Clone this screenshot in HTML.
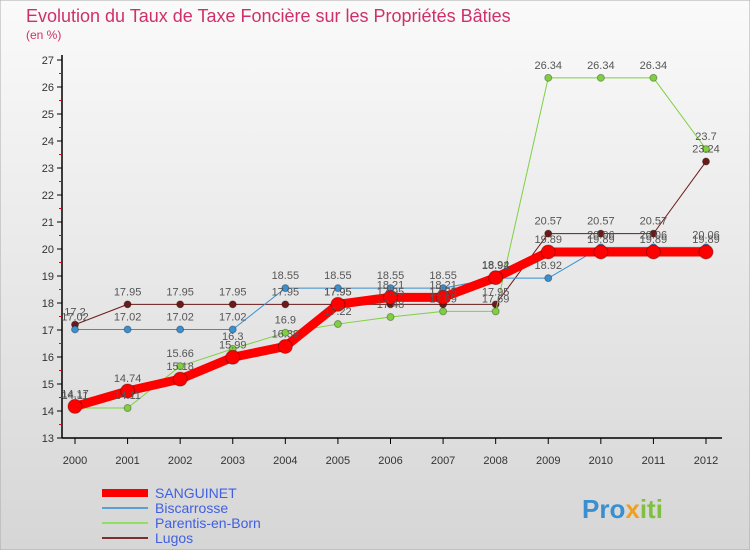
<!DOCTYPE html>
<html><head><meta charset="utf-8"><style>
body{margin:0;width:750px;height:550px;overflow:hidden;font-family:"Liberation Sans",sans-serif}
svg text{font-family:"Liberation Sans",sans-serif}
</style></head><body>
<svg id="c" width="750" height="550">
<defs><linearGradient id="bg" x1="0" y1="0" x2="0" y2="1"><stop offset="0" stop-color="#fafafa"/><stop offset="1" stop-color="#d6d6d6"/></linearGradient></defs>
<rect width="750" height="550" fill="url(#bg)" stroke="#aaa"/>
<text x="26" y="22" font-size="18" fill="#d0306a">Evolution du Taux de Taxe Foncière sur les Propriétés Bâties</text>
<text x="26" y="39" font-size="12" fill="#d0306a">(en %)</text>
<g id="axes"></g><g id="series"></g><g id="labels"></g>
<g>
<line x1="102" y1="493" x2="148" y2="493" stroke="#f00" stroke-width="8"/>
<text x="155" y="498" font-size="14" fill="#4060e0">SANGUINET</text>
<line x1="102" y1="508" x2="148" y2="508" stroke="#5a9fd6" stroke-width="2"/>
<text x="155" y="513" font-size="14" fill="#4060e0">Biscarrosse</text>
<line x1="102" y1="523" x2="148" y2="523" stroke="#8fe060" stroke-width="2"/>
<text x="155" y="528" font-size="14" fill="#4060e0">Parentis-en-Born</text>
<line x1="102" y1="538" x2="148" y2="538" stroke="#7a3030" stroke-width="2"/>
<text x="155" y="543" font-size="14" fill="#4060e0">Lugos</text>
</g>
<text x="582" y="518" font-size="26" font-weight="bold" fill="#3a8fd0">Pro<tspan fill="#f0a020">x</tspan><tspan fill="#80c040">iti</tspan></text>
</svg>
<script>
const years=[2000,2001,2002,2003,2004,2005,2006,2007,2008,2009,2010,2011,2012];
const yTicks=[13,14,15,16,17,18,19,20,21,22,23,24,25,26,27];
const sanguinet=[14.17,14.74,15.18,15.99,16.39,17.95,18.21,18.21,18.94,19.89,19.89,19.89,19.89];
const biscarrosse=[17.02,17.02,17.02,17.02,18.55,18.55,18.55,18.55,18.92,18.92,20.06,20.06,20.06];
const parentis=[14.11,14.11,15.66,16.3,16.9,17.22,17.48,17.69,17.69,26.34,26.34,26.34,23.7];
const lugos=[17.2,17.95,17.95,17.95,17.95,17.95,17.95,17.95,17.95,20.57,20.57,20.57,23.24];
const NS="http://www.w3.org/2000/svg";
const x=i=>75+i*(706-75)/12;
const y=v=>438-(v-13)*27;
function mk(t,a,p){const e=document.createElementNS(NS,t);for(const k in a)e.setAttribute(k,a[k]);p.appendChild(e);return e;}
const ax=document.getElementById('axes');
let e=mk('line',{x1:62,y1:55,x2:62,y2:438,stroke:'#000','stroke-width':1.5},ax);


e=mk('line',{x1:62,y1:438,x2:722,y2:438,stroke:'#000','stroke-width':1.5},ax);


yTicks.forEach(v=>{
 mk('line',{x1:57,x2:62,y1:y(v),y2:y(v),stroke:'#000'},ax);
 if(v<27)mk('line',{x1:59,x2:62,y1:y(v+0.5),y2:y(v+0.5),stroke:'#e00'},ax);
 const t=mk('text',{x:54,y:y(v)+4,'font-size':11,'text-anchor':'end',fill:'#333'},ax);t.textContent=v;
 
 
});
years.forEach((yr,i)=>{
 mk('line',{x1:x(i),x2:x(i),y1:438,y2:444,stroke:'#000'},ax);
 const t=mk('text',{x:x(i),y:464,'font-size':11,'text-anchor':'middle',fill:'#333'},ax);t.textContent=yr;
 
 
});
const sg=document.getElementById('series'),lg=document.getElementById('labels');
function draw(d,color,w,r,name){
 const g=mk('g',{},sg);
 
 
 mk('polyline',{points:d.map((v,i)=>x(i)+','+y(v)).join(' '),fill:'none',stroke:color,'stroke-width':w,'stroke-linejoin':'round'},g);
 d.forEach((v,i)=>{
  const c=mk('circle',{cx:x(i),cy:y(v),r:r,fill:color,stroke:'rgba(0,0,0,0.3)'},g);
  
  
  const t=mk('text',{x:x(i),y:y(v)-9,'font-size':11,'text-anchor':'middle',fill:'#555'},lg);t.textContent=v;
 });
}
draw(lugos,'#6b1a1a',1,3.5,'lugos');
draw(parentis,'#7fd040',1,3.5,'parentis');
draw(biscarrosse,'#3a8fd0',1,3.5,'biscarrosse');
draw(sanguinet,'#f00',9,7,'sanguinet');
</script>
</body></html>
